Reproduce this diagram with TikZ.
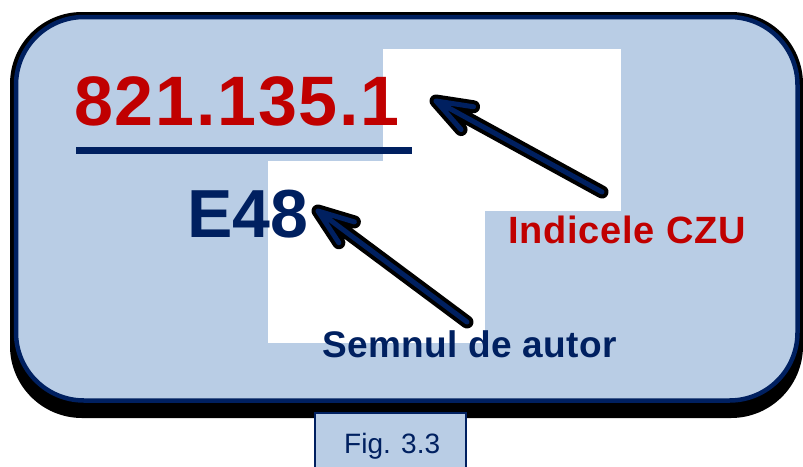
\documentclass[tikz,border=0pt]{standalone}
\usepackage{fontspec}
\setmainfont{Liberation Sans}
\usetikzlibrary{calc}
\definecolor{navy}{HTML}{002060}
\definecolor{czured}{HTML}{C00000}
\definecolor{panel}{HTML}{B9CDE5}
\begin{document}
\begin{tikzpicture}[x=1pt,y=-1pt,
  txt/.style={inner sep=0pt,anchor=base west},
  outline/.style={line width=13pt,line cap=round,line join=round,black},
  core/.style={line width=5pt,line cap=round,line join=round,navy}]
\useasboundingbox (0,0) rectangle (803,466);
% panel with shadow
\fill[black,rounded corners=72pt] (10,12) rectangle (803,418);
\draw[navy,fill=panel,line width=4.5pt,rounded corners=68pt] (16,17) rectangle (797.5,400.5);
% pasted white backgrounds
\fill[white] (383,49) rectangle (621,211);
\fill[white] (268,161) rectangle (485,343);
% texts
\node[txt,text=czured,font=\bfseries\fontsize{70}{70}\selectfont\addfontfeature{LetterSpace=2.5}] (idx) at (74,125) {821.135.1};
\coordinate (ul1) at (76,150.5);
\coordinate (ul2) at (412,150.5);
\draw[navy,line width=7pt] (ul1) -- (ul2);
\node[txt,text=navy,font=\bfseries\fontsize{68}{68}\selectfont] (aut) at (187,237) {E48};
\node[txt,text=czured,font=\bfseries\fontsize{38}{38}\selectfont\addfontfeature{LetterSpace=2}] (lbl1) at (508,243) {Indicele CZU};
\node[txt,text=navy,font=\bfseries\fontsize{37}{37}\selectfont\addfontfeature{LetterSpace=1}] (lbl2) at (322,357) {Semnul de autor};
% arrows
\coordinate (tip1) at (436,101);
\coordinate (tail1) at (602,192);
\coordinate (tip2) at (318,211);
\coordinate (tail2) at (467,322);
\foreach \tp/\tl in {tip1/tail1,tip2/tail2}{
  \draw[outline] (\tl) -- (\tp) -- ($(\tp)!38pt!20:(\tl)$) (\tp) -- ($(\tp)!38pt!-20:(\tl)$);
  \draw[core] (\tl) -- (\tp) -- ($(\tp)!38pt!20:(\tl)$) (\tp) -- ($(\tp)!38pt!-20:(\tl)$);
}
% figure caption
\fill[panel] (315,413) rectangle (466,470);
\draw[navy,line width=2pt] (315,470) -- (315,413) -- (466,413) -- (466,470);
\node[txt,text=navy,font=\fontsize{28}{28}\selectfont] (fig) at (344,453) {Fig. 3.3};
\end{tikzpicture}
\end{document}
